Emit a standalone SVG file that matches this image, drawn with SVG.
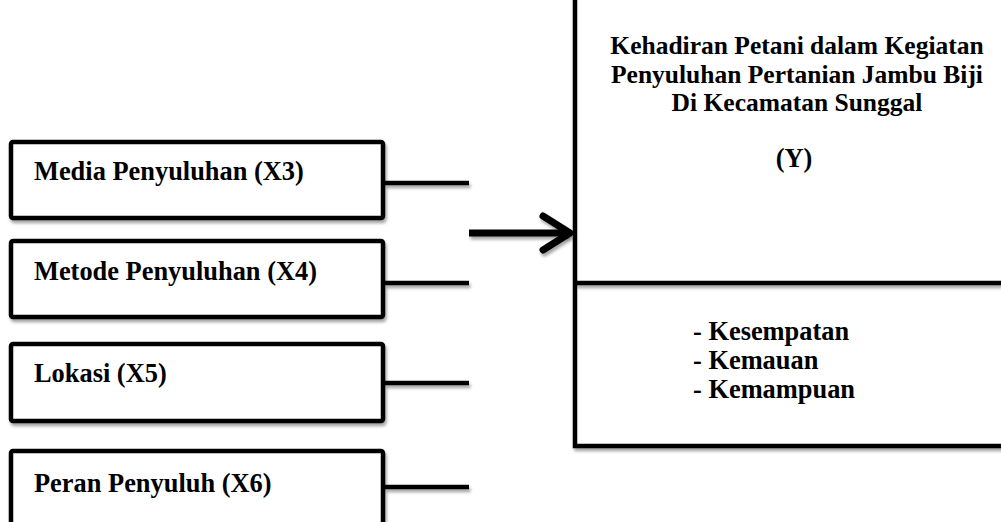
<svg xmlns="http://www.w3.org/2000/svg" width="1001" height="522" viewBox="0 0 1001 522">
<style>
.box{fill:#fff;stroke:#000;stroke-width:4.5;filter:url(#sh)}
.ln{stroke:#000;stroke-width:4.5;fill:none;filter:url(#sh)}
.t{font-family:"Liberation Serif","Times New Roman",serif;font-weight:bold;font-size:26.4px;fill:#000}
.tt{font-size:25.5px}
</style>
<defs>
<filter id="sh" filterUnits="userSpaceOnUse" x="-50" y="-50" width="1101" height="622">
<feDropShadow dx="1.5" dy="3" stdDeviation="1.5" flood-color="#000" flood-opacity="0.35"/>
</filter>
</defs>
<rect width="1001" height="522" fill="#fff"/>
<g id="y-node">
<rect class="box" x="575" y="-20" width="450" height="466"/>
<line class="ln" x1="575" y1="283" x2="1001" y2="283"/>
<text class="t tt" x="797" y="54" text-anchor="middle">Kehadiran Petani dalam Kegiatan</text>
<text class="t tt" x="797" y="82.5" text-anchor="middle">Penyuluhan Pertanian Jambu Biji</text>
<text class="t tt" x="797" y="111" text-anchor="middle">Di Kecamatan Sunggal</text>
<text class="t" x="794" y="167" text-anchor="middle">(Y)</text>
<text class="t" x="693" y="340">- Kesempatan</text>
<text class="t" x="693" y="369">- Kemauan</text>
<text class="t" x="693" y="398">- Kemampuan</text>
</g>
<g id="x3">
<rect class="box" x="11" y="142" width="372" height="76" rx="2"/>
<text class="t" x="34" y="180">Media Penyuluhan (X3)</text>
</g>
<g id="x4">
<rect class="box" x="11" y="241" width="372" height="76" rx="2"/>
<text class="t" x="34" y="280">Metode Penyuluhan (X4)</text>
</g>
<g id="x5">
<rect class="box" x="11" y="344" width="372" height="77" rx="2"/>
<text class="t" x="34" y="382">Lokasi (X5)</text>
</g>
<g id="x6">
<rect class="box" x="11" y="451" width="372" height="90" rx="2"/>
<text class="t" x="34" y="492">Peran Penyuluh (X6)</text>
</g>
<g id="connectors">
<line class="ln" x1="385" y1="183" x2="469" y2="183"/>
<line class="ln" x1="385" y1="283" x2="469" y2="283"/>
<line class="ln" x1="385" y1="383" x2="469" y2="383"/>
<line class="ln" x1="385" y1="487" x2="469" y2="487"/>
<line x1="469" y1="233" x2="568" y2="233" stroke="#000" stroke-width="7" filter="url(#sh)"/>
<polyline points="543,216 570,233 543,250" fill="none" stroke="#000" stroke-width="7" stroke-linecap="round" stroke-linejoin="round" filter="url(#sh)"/>
</g>
</svg>
